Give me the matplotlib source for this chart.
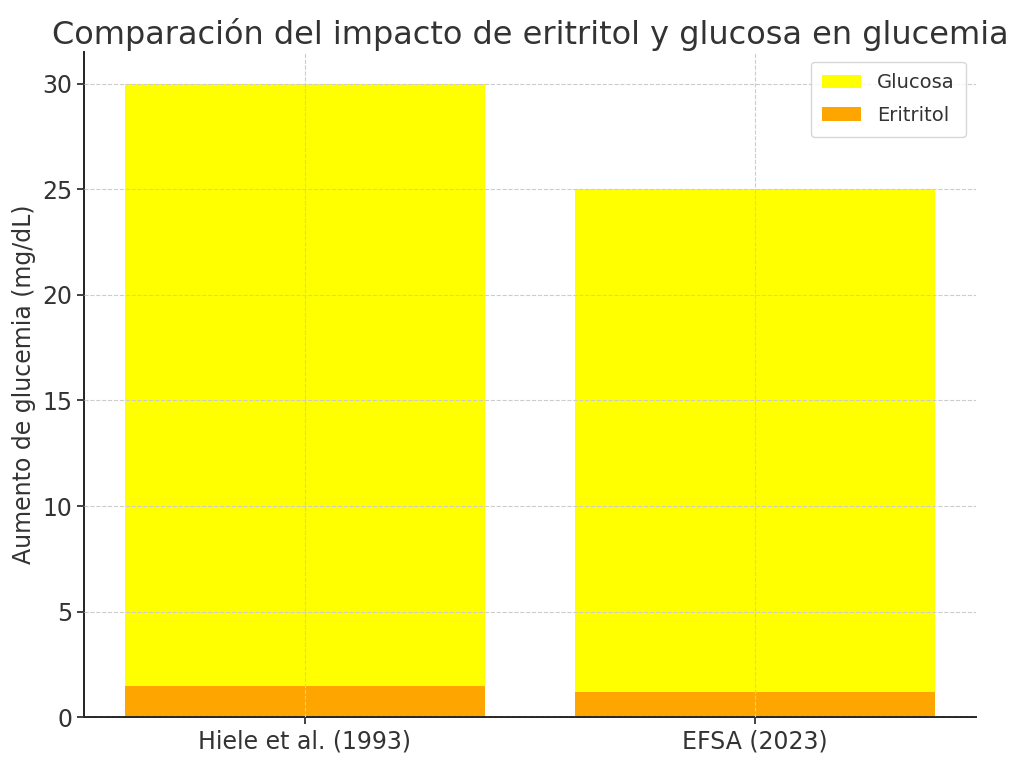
import matplotlib
matplotlib.use('Agg')
import matplotlib.pyplot as plt

estudios = ['Hiele et al. (1993)', 'EFSA (2023)']
glucosa = [30, 25]
eritritol = [1.5, 1.2]

plt.rcParams['text.color'] = '#333333'
plt.rcParams['axes.labelcolor'] = '#333333'
plt.rcParams['xtick.color'] = '#333333'
plt.rcParams['ytick.color'] = '#333333'

fig, ax = plt.subplots(figsize=(10.24, 7.63), dpi=100)
ax.bar(estudios, glucosa, color='#ffff00', label='Glucosa')
ax.bar(estudios, eritritol, color='#ffa500', label='Eritritol')

ax.set_title('Comparación del impacto de eritritol y glucosa en glucemia', fontsize=23)
ax.set_ylabel('Aumento de glucemia (mg/dL)', fontsize=17)
ax.tick_params(labelsize=17, width=1.3, length=5)
ax.grid(True, linestyle='--', color='#cccccc')
ax.set_axisbelow(False)
for s in ['top', 'right']:
    ax.spines[s].set_visible(False)
for s in ['left', 'bottom']:
    ax.spines[s].set_linewidth(1.4)
    ax.spines[s].set_color('#222222')
ax.legend(fontsize=14, loc='upper right', borderpad=0.6, labelspacing=0.7)

plt.subplots_adjust(left=0.082, right=0.953, top=0.932, bottom=0.06)
plt.savefig('out.png')
